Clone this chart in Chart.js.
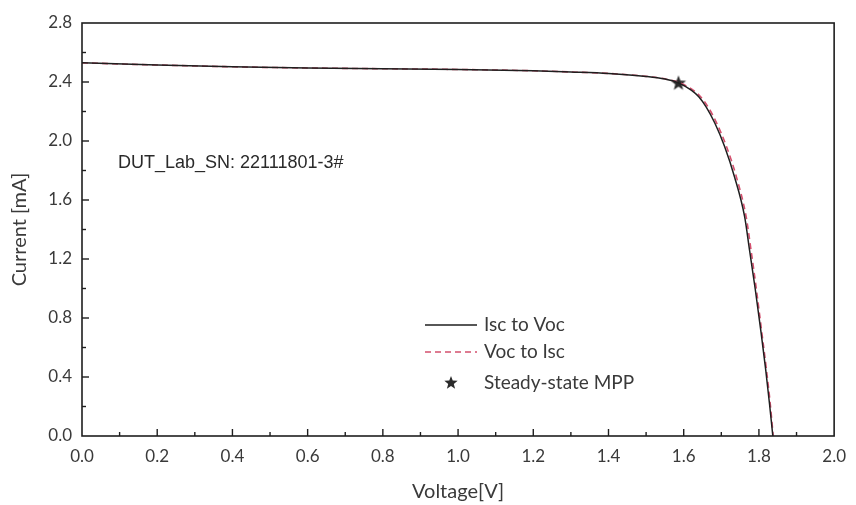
<!DOCTYPE html>
<html>
<head>
<meta charset="utf-8">
<script src="https://cdn.jsdelivr.net/npm/chart.js@4"></script>
<style>
  html, body { margin: 0; padding: 0; background: #fff; }
  #wrap { width: 856px; height: 505px; }
</style>
</head>
<body>
<div id="wrap"><canvas id="iv"></canvas></div>
<script>
// I-V 曲線データ
const voltageFwd = [0, 0.2, 0.4, 0.6, 0.8, 1.0, 1.2, 1.3, 1.4, 1.5, 1.55, 1.585, 1.62, 1.64, 1.66, 1.683, 1.709, 1.735, 1.762, 1.775, 1.79, 1.806, 1.818, 1.828, 1.837]
const currentFwd = [2.530, 2.515, 2.503, 2.495, 2.490, 2.485, 2.476, 2.468, 2.458, 2.438, 2.420, 2.395, 2.345, 2.300, 2.230, 2.120, 1.961, 1.758, 1.487, 1.261, 1.000, 0.696, 0.450, 0.222, 0.0]
const voltageRev = [0, 0.2, 0.4, 0.6, 0.8, 1.0, 1.2, 1.3, 1.4, 1.5, 1.552, 1.589, 1.625, 1.645, 1.665, 1.688, 1.714, 1.740, 1.766, 1.779, 1.793, 1.808, 1.820, 1.830, 1.838]
const currentRev = [2.530, 2.515, 2.503, 2.495, 2.490, 2.485, 2.476, 2.468, 2.458, 2.438, 2.420, 2.395, 2.345, 2.300, 2.230, 2.120, 1.961, 1.758, 1.487, 1.261, 1.000, 0.696, 0.450, 0.222, 0.0]
const mppVoltage = [1.586]
const mppCurrent = [2.391]

const seriesLabels = ['Isc to Voc', 'Voc to Isc', 'Steady-state MPP']
const sampleLabel = 'DUT_Lab_SN: 22111801-3#'

const toPoints = (xs, ys) => xs.map((x, i) => ({ x: x, y: ys[i] }))

// 塗りつぶしの星マーカー
function makeStar(r, color) {
  const c = document.createElement('canvas')
  c.width = r * 2 + 2
  c.height = r * 2 + 2
  const g = c.getContext('2d')
  g.fillStyle = color
  g.beginPath()
  for (let i = 0; i < 10; i++) {
    const rad = i % 2 === 0 ? r : r * 0.42
    const a = -Math.PI / 2 + i * Math.PI / 5
    const px = r + 1 + rad * Math.cos(a)
    const py = r + 1 + rad * Math.sin(a)
    if (i === 0) g.moveTo(px, py)
    else g.lineTo(px, py)
  }
  g.closePath()
  g.fill()
  return c
}
const starImg = makeStar(8, '#2b2b2b')
const starSmall = makeStar(7, '#2b2b2b')

const TEXT = '#3a3a3a'
const AXIS = '#1e1e1e'

const framePlugin = {
  id: 'frame',
  afterDraw(chart) {
    const { ctx, chartArea: a, scales } = chart
    ctx.save()
    ctx.strokeStyle = AXIS
    ctx.lineWidth = 1.6
    ctx.strokeRect(a.left, a.top, a.right - a.left, a.bottom - a.top)

    // 内向きの目盛り
    ctx.lineWidth = 1.4
    scales.x.ticks.forEach(t => {
      const px = scales.x.getPixelForValue(t.value)
      const major = Math.round(t.value * 10) % 2 === 0
      if (px <= a.left + 1 || px >= a.right - 1) return
      ctx.beginPath()
      ctx.moveTo(px, a.bottom)
      ctx.lineTo(px, a.bottom - (major ? 7 : 4))
      ctx.stroke()
    })
    scales.y.ticks.forEach(t => {
      const py = scales.y.getPixelForValue(t.value)
      const major = Math.round(t.value * 10) % 4 === 0
      if (py <= a.top + 1 || py >= a.bottom - 1) return
      ctx.beginPath()
      ctx.moveTo(a.left, py)
      ctx.lineTo(a.left + (major ? 7 : 4), py)
      ctx.stroke()
    })

    // サンプル名
    ctx.fillStyle = '#2a2a2a'
    ctx.font = '18px "Liberation Sans", Arial, sans-serif'
    ctx.textBaseline = 'alphabetic'
    ctx.textAlign = 'left'
    ctx.fillText(sampleLabel, a.left + 36, 168)

    // 凡例
    const lx = 425, lw = 52, tx = 484
    const rows = [325, 352, 383]
    const ds = chart.data.datasets
    ctx.font = '19px Lato, "Open Sans", sans-serif'
    ctx.textBaseline = 'middle'
    for (let i = 0; i < 2; i++) {
      ctx.beginPath()
      ctx.strokeStyle = ds[i].borderColor
      ctx.lineWidth = ds[i].borderWidth
      ctx.setLineDash(ds[i].borderDash || [])
      ctx.moveTo(lx, rows[i])
      ctx.lineTo(lx + lw, rows[i])
      ctx.stroke()
    }
    ctx.setLineDash([])
    ctx.drawImage(starSmall, lx + lw / 2 - 8, rows[2] - 8)
    ctx.fillStyle = TEXT
    seriesLabels.forEach((s, i) => ctx.fillText(s, tx, rows[i]))
    ctx.restore()
  }
}

new Chart(document.getElementById('iv'), {
  type: 'scatter',
  data: {
    datasets: [
      {
        label: seriesLabels[0],
        data: toPoints(voltageFwd, currentFwd),
        showLine: true,
        borderColor: '#1f1f1f',
        borderWidth: 1.5,
        pointRadius: 0,
        cubicInterpolationMode: 'monotone'
      },
      {
        label: seriesLabels[1],
        data: toPoints(voltageRev, currentRev),
        showLine: true,
        borderColor: '#d4506e',
        borderWidth: 1.6,
        borderDash: [6, 4],
        pointRadius: 0,
        cubicInterpolationMode: 'monotone'
      },
      {
        label: seriesLabels[2],
        data: toPoints(mppVoltage, mppCurrent),
        showLine: false,
        pointStyle: starImg,
        pointRadius: 8
      }
    ]
  },
  options: {
    responsive: true,
    maintainAspectRatio: false,
    animation: false,
    layout: { padding: { left: 0, right: 16, top: 23, bottom: 0 } },
    plugins: {
      legend: { display: false },
      tooltip: { enabled: false }
    },
    scales: {
      x: {
        type: 'linear',
        min: 0,
        max: 2.0,
        border: { display: false },
        grid: { display: false, drawTicks: false },
        ticks: {
          stepSize: 0.1,
          padding: 10,
          color: TEXT,
          font: { family: 'Lato, "Open Sans", sans-serif', size: 17 },
          maxRotation: 0,
          autoSkip: false,
          callback: function(value) {
            return Math.round(value * 10) % 2 === 0 ? value.toFixed(1) : ''
          }
        },
        title: {
          display: true,
          text: 'Voltage[V]',
          color: TEXT,
          font: { family: 'Lato, "Open Sans", sans-serif', size: 20 },
          padding: { top: 0, bottom: 1 }
        },
        afterFit: function(scale) { scale.height = 69 }
      },
      y: {
        type: 'linear',
        min: 0,
        max: 2.8,
        border: { display: false },
        grid: { display: false, drawTicks: false },
        ticks: {
          stepSize: 0.2,
          padding: 10,
          color: TEXT,
          font: { family: 'Lato, "Open Sans", sans-serif', size: 17 },
          autoSkip: false,
          callback: function(value) {
            return Math.round(value * 10) % 4 === 0 ? value.toFixed(1) : ''
          }
        },
        title: {
          display: true,
          text: 'Current [mA]',
          color: TEXT,
          font: { family: 'Lato, "Open Sans", sans-serif', size: 20 },
          padding: { top: 8, bottom: 0 }
        },
        afterFit: function(scale) { scale.width = 82 }
      }
    }
  },
  plugins: [framePlugin]
})
</script>
</body>
</html>
